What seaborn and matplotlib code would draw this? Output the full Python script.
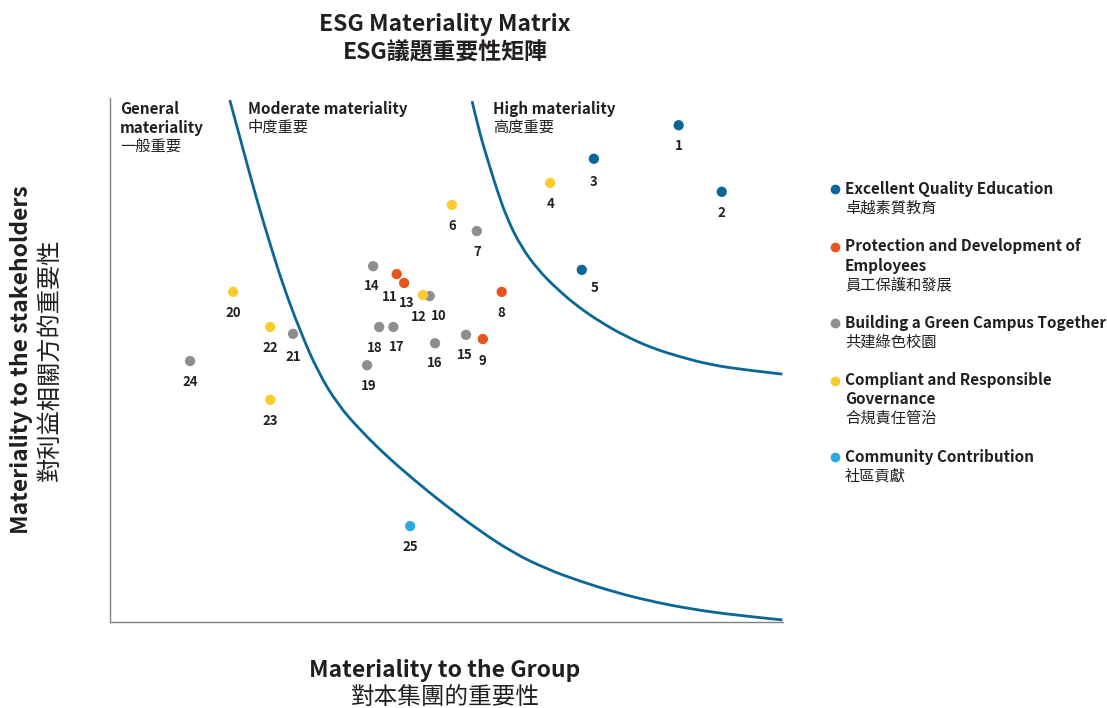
import numpy as np
import pandas as pd
import seaborn as sns
import matplotlib.pyplot as plt
from matplotlib.path import Path
from matplotlib.patches import PathPatch

# Значения (шкала 0-10 по обеим осям)
issue_ids = list(range(1, 26))
group_score = [8.45, 9.09, 7.19, 6.54, 7.01, 5.08, 5.45, 5.82, 5.54, 4.75,
               4.26, 4.65, 4.37, 3.91, 5.29, 4.83, 4.21, 4.00, 3.82, 1.83,
               2.72, 2.38, 2.38, 1.19, 4.46]
stake_score = [9.48, 8.21, 8.84, 8.38, 6.72, 7.96, 7.46, 6.30, 5.40, 6.22,
               6.64, 6.24, 6.47, 6.79, 5.48, 5.32, 5.63, 5.63, 4.90, 6.30,
               5.50, 5.63, 4.24, 4.98, 1.83]
issue_cat = ['edu', 'edu', 'edu', 'gov', 'edu', 'gov', 'green', 'emp', 'emp', 'green',
             'emp', 'gov', 'emp', 'green', 'green', 'green', 'green', 'green', 'green', 'gov',
             'green', 'gov', 'gov', 'green', 'comm']

# Границы зон (точки кривых)
low_curve_x = [1.78, 1.98, 2.17, 2.36, 2.57, 2.82, 3.09, 3.39, 3.72, 4.09, 4.50,
               4.98, 5.47, 5.99, 6.49, 6.98, 7.50, 8.02, 8.62, 9.29, 9.99]
low_curve_y = [9.96, 9.01, 8.11, 7.29, 6.43, 5.57, 4.77, 4.14, 3.66, 3.19, 2.73,
               2.23, 1.76, 1.32, 1.01, 0.78, 0.57, 0.40, 0.25, 0.13, 0.04]
high_curve_x = [5.38, 5.48, 5.60, 5.75, 5.91, 6.11, 6.36, 6.64, 6.94, 7.28, 7.65,
                8.05, 8.47, 8.92, 9.44, 9.99]
high_curve_y = [9.94, 9.39, 8.87, 8.24, 7.67, 7.16, 6.72, 6.36, 6.03, 5.73, 5.46,
                5.23, 5.06, 4.91, 4.81, 4.73]

cat_keys = ['edu', 'emp', 'green', 'gov', 'comm']
cat_en = ['Excellent Quality Education', 'Protection and Development of\nEmployees',
          'Building a Green Campus Together', 'Compliant and Responsible\nGovernance',
          'Community Contribution']
cat_zh = ['卓越素質教育', '員工保護和發展', '共建綠色校園', '合規責任管治', '社區貢獻']

palette = {'edu': '#0A6796', 'emp': '#E9531D', 'green': '#8E8E8E',
           'gov': '#FCCB2E', 'comm': '#2DA9E1'}
text_col = '#231F20'
curve_col = '#0A6796'

# сдвиги подписей номеров (пиксели)
label_shift = {3: (0, 23), 5: (13, 18), 10: (9, 20), 11: (-7, 23), 12: (-4, 22),
               13: (3, 20), 14: (-1, 20), 17: (3, 20), 18: (-5, 21), 19: (2, 21),
               21: (0, 23), 9: (0, 22), 16: (0, 20), 15: (-1, 20)}

df = pd.DataFrame({'id': issue_ids, 'x': group_score, 'y': stake_score, 'cat': issue_cat})

sns.set_style('white')
plt.rcParams['font.family'] = ['Noto Sans CJK TC', 'DejaVu Sans']

W, H = 1107, 708
fig = plt.figure(figsize=(W / 100, H / 100), dpi=100)
ax = fig.add_axes([110 / W, 86 / H, 673 / W, 524 / H])


def fx(px):
    return px / W


def fy(py):
    return 1 - py / H


def smooth_curve(xs, ys):
    # сглаженная кривая: считанные точки как контрольные (квадратичные сегменты)
    pts = list(zip(xs, ys))
    verts = [pts[0]]
    codes = [Path.MOVETO]
    for i in range(1, len(pts) - 1):
        if i == len(pts) - 2:
            end = pts[-1]
        else:
            end = ((pts[i][0] + pts[i + 1][0]) / 2, (pts[i][1] + pts[i + 1][1]) / 2)
        verts += [pts[i], end]
        codes += [Path.CURVE3, Path.CURVE3]
    return PathPatch(Path(verts, codes), facecolor='none', edgecolor=curve_col, lw=2.0)


ax.add_patch(smooth_curve(low_curve_x, low_curve_y))
ax.add_patch(smooth_curve(high_curve_x, high_curve_y))
sns.scatterplot(data=df, x='x', y='y', hue='cat', palette=palette, s=55,
                linewidth=0, legend=False, ax=ax, zorder=3)

for i, x, y in zip(issue_ids, group_score, stake_score):
    dx, dy = label_shift.get(i, (0, 21))
    ax.annotate(str(i), (x, y), xytext=(dx, -dy), textcoords='offset pixels',
                ha='center', va='center', fontsize=9.5, fontweight='bold', color=text_col)

ax.set_xlim(0, 10)
ax.set_ylim(0, 10)
ax.set_xticks([])
ax.set_yticks([])
ax.set_xlabel('')
ax.set_ylabel('')
sns.despine(ax=ax)
for side in ['left', 'bottom']:
    ax.spines[side].set_color('#808080')
    ax.spines[side].set_linewidth(1.0)

# Заголовок и подписи осей
fig.text(fx(445), fy(25), 'ESG Materiality Matrix', ha='center', va='center',
         fontsize=16.5, fontweight='bold', color=text_col)
fig.text(fx(445), fy(53), 'ESG議題重要性矩陣', ha='center', va='center',
         fontsize=16.5, fontweight='bold', color=text_col)
fig.text(fx(445), fy(670), 'Materiality to the Group', ha='center', va='center',
         fontsize=16.5, fontweight='bold', color=text_col)
fig.text(fx(445), fy(697), '對本集團的重要性', ha='center', va='center',
         fontsize=17, color=text_col)
fig.text(fx(22), fy(360), 'Materiality to the stakeholders', ha='center', va='center',
         rotation=90, fontsize=16.5, fontweight='bold', color=text_col)
fig.text(fx(50), fy(360), '對利益相關方的重要性', ha='center', va='center',
         rotation=90, fontsize=17.5, color=text_col)

# Зоны
zones = [(120, ['General', 'materiality'], '一般重要'),
         (248, ['Moderate materiality'], '中度重要'),
         (493, ['High materiality'], '高度重要')]
for px, en_lines, zh in zones:
    py = 109
    for line in en_lines:
        fig.text(fx(px), fy(py), line, ha='left', va='center', fontsize=11,
                 fontweight='bold', color=text_col)
        py += 19.5
    fig.text(fx(px), fy(py - 1), zh, ha='left', va='center', fontsize=11, color=text_col)

# Легенда
py = 189
for key, en, zh in zip(cat_keys, cat_en, cat_zh):
    fig.add_artist(plt.Line2D([fx(835)], [fy(py)], marker='o', markersize=6,
                              color=palette[key], linestyle='none'))
    for line in en.split('\n'):
        fig.text(fx(845), fy(py), line, ha='left', va='center', fontsize=11,
                 fontweight='bold', color=text_col)
        py += 19
    fig.text(fx(845), fy(py), zh, ha='left', va='center', fontsize=11, color=text_col)
    py += 38.5

plt.savefig('out.png', dpi=100)
